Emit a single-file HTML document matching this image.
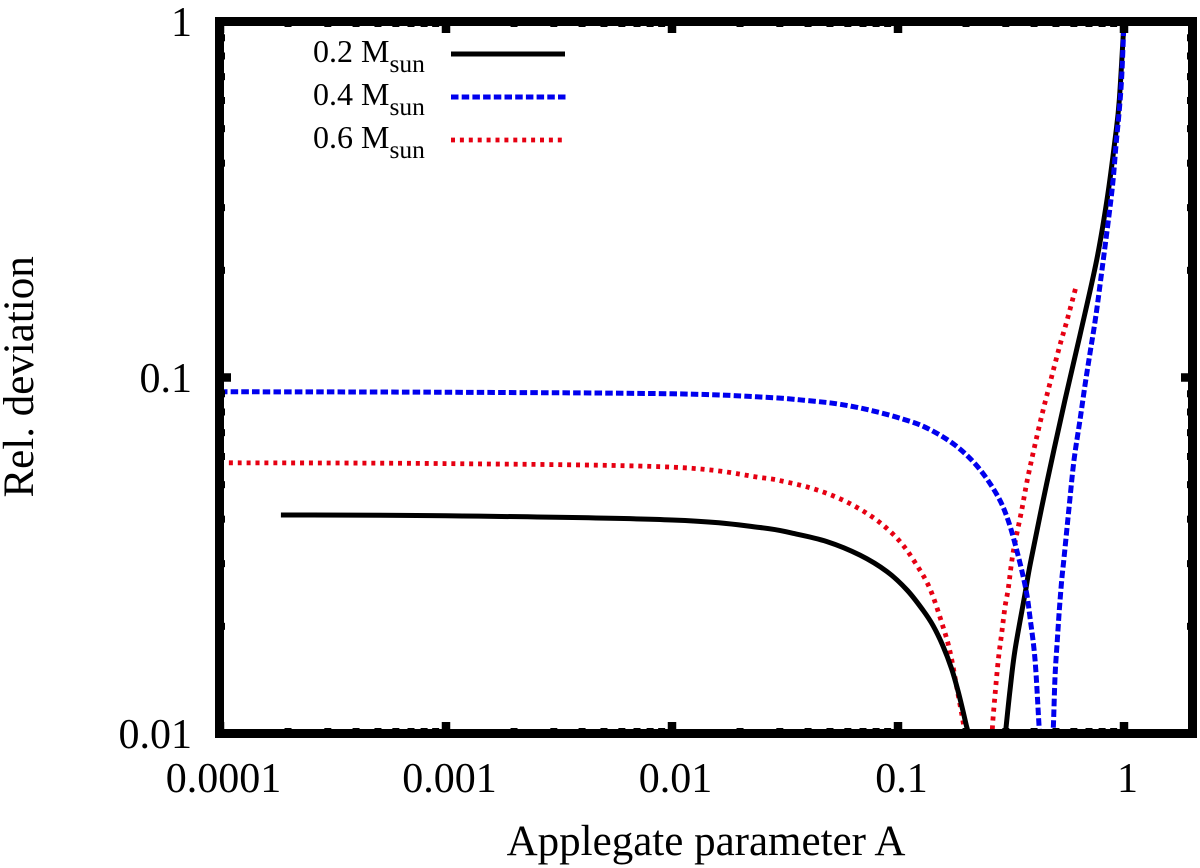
<!DOCTYPE html>
<html lang="en">
<head>
<meta charset="utf-8">
<title>Relative deviation vs Applegate parameter</title>
<style>
  html, body { margin: 0; padding: 0; background: #fff; }
  svg { display: block; font-family: "Liberation Serif", "Times New Roman", serif; fill: #000; }
</style>
</head>
<body>
<svg id="chart" xmlns="http://www.w3.org/2000/svg" width="1200" height="868" viewBox="0 0 1200 868">
  <rect x="0" y="0" width="1200" height="868" fill="#fff"/>
  <defs>
    <clipPath id="plot-clip"><rect x="219.5" y="21.5" width="973" height="712"/></clipPath>
  </defs>
  <g id="series" clip-path="url(#plot-clip)"></g>
  <g id="ticks"></g>
  <rect x="219.5" y="21.5" width="973" height="712" fill="none" stroke="#000" stroke-width="9"/>
  <g id="tick-labels" font-size="42"></g>
  <text x="706" y="855" font-size="43" text-anchor="middle">Applegate parameter A</text>
  <text transform="translate(33 497.5) rotate(-90)" font-size="43">Rel. deviation</text>
  <g>
    <text x="313" y="62" font-size="32">0.2 M<tspan font-size="25.5" dy="10">sun</tspan></text>
    <line x1="451" y1="54" x2="565" y2="54" stroke="#000" stroke-width="5"/>
    <text x="313" y="105" font-size="32">0.4 M<tspan font-size="25.5" dy="10">sun</tspan></text>
    <line x1="451" y1="97" x2="566" y2="97" stroke="#0000ee" stroke-width="5" stroke-dasharray="7.5 3.2"/>
    <text x="313" y="148" font-size="32">0.6 M<tspan font-size="25.5" dy="10">sun</tspan></text>
    <line x1="451" y1="140" x2="563" y2="140" stroke="#e60012" stroke-width="4.8" stroke-dasharray="4 4.9"/>
  </g>
</svg>
<script>
// Tick values and labels
const xTickValues = [0.0001, 0.001, 0.01, 0.1, 1];
const xTickLabels = ["0.0001", "0.001", "0.01", "0.1", "1"];
const yTickValues = [0.01, 0.1, 1];
const yTickLabels = ["0.01", "0.1", "1"];
const minorMultipliers = [2, 3, 4, 5, 6, 7, 8, 9];

// 0.2 Msun series
const a02Left = [0.000186, 0.001, 0.01, 0.0245, 0.0343, 0.0485, 0.0679, 0.0894, 0.1096, 0.129, 0.1429, 0.1582, 0.1728, 0.1843, 0.1939, 0.2014, 0.2083];
const dev02Left = [0.0411, 0.0409, 0.0398, 0.0379, 0.0365, 0.0346, 0.0317, 0.0285, 0.0253, 0.0222, 0.0201, 0.0176, 0.01518, 0.01317, 0.01156, 0.01043, 0.0097];
const a02Right = [0.2976, 0.3005, 0.3131, 0.3294, 0.3647, 0.3865, 0.455, 0.5482, 0.6388, 0.7571, 0.8434, 0.9124, 0.9532, 1];
const dev02Right = [0.0097, 0.01036, 0.01325, 0.01716, 0.02466, 0.0304, 0.0504, 0.0865, 0.1316, 0.2138, 0.3193, 0.4647, 0.6017, 1];

// 0.4 Msun series
const a04Left = [0.0001, 0.001, 0.01, 0.0258, 0.04, 0.0554, 0.0767, 0.1052, 0.1344, 0.1787, 0.2259, 0.2742, 0.3067, 0.3396, 0.3685, 0.3837, 0.404, 0.4206, 0.4249];
const dev04Left = [0.0912, 0.0909, 0.09, 0.088, 0.0861, 0.0841, 0.0807, 0.0764, 0.0721, 0.0646, 0.056, 0.0468, 0.0398, 0.0317, 0.0253, 0.0212, 0.0161, 0.01056, 0.0097];
const a04Right = [0.4802, 0.4866, 0.4952, 0.507, 0.5174, 0.5302, 0.5427, 0.5728, 0.601, 0.6388, 0.6724, 0.7074, 0.7443, 0.7832, 0.8823, 0.9218, 0.9532, 0.9768, 1];
const dev04Right = [0.0097, 0.01036, 0.01444, 0.01831, 0.02223, 0.02699, 0.03111, 0.04385, 0.05866, 0.076, 0.0953, 0.1172, 0.1435, 0.1819, 0.3298, 0.4499, 0.5642, 0.6998, 1];

// 0.6 Msun series
const a06Left = [0.0001, 0.001, 0.01, 0.0249, 0.0306, 0.0408, 0.0526, 0.0665, 0.0833, 0.1021, 0.1195, 0.1385, 0.1582, 0.1699, 0.1818, 0.1945, 0.1979];
const dev06Left = [0.0576, 0.0573, 0.056, 0.0523, 0.0512, 0.049, 0.0463, 0.043, 0.0391, 0.0346, 0.0301, 0.0255, 0.01995, 0.01697, 0.01353, 0.0107, 0.0097];
const a06Right = [0.2606, 0.2624, 0.2687, 0.2778, 0.2877, 0.2976, 0.3077, 0.3228, 0.3526, 0.3772, 0.4249, 0.4706, 0.5208, 0.5578, 0.6132];
const dev06Right = [0.0097, 0.0107, 0.01282, 0.01609, 0.01915, 0.0227, 0.0256, 0.0321, 0.0424, 0.0532, 0.0745, 0.0965, 0.1234, 0.1435, 0.1799];

const NS = "http://www.w3.org/2000/svg";
const xScale = function (a) { return 220 + 226 * (Math.log10(a) + 4); };
const yScale = function (d) { return 21.5 - 356 * Math.log10(d); };

const seriesGroup = document.getElementById("series");
const tickGroup = document.getElementById("ticks");
const labelGroup = document.getElementById("tick-labels");

function smoothPath(xs, ys) {
  const px = xs.map(xScale);
  const py = ys.map(yScale);
  let d = "M" + px[0].toFixed(2) + " " + py[0].toFixed(2);
  for (let i = 0; i < px.length - 1; i++) {
    const i0 = Math.max(i - 1, 0);
    const i3 = Math.min(i + 2, px.length - 1);
    const c1x = px[i] + (px[i + 1] - px[i0]) / 6;
    const c1y = py[i] + (py[i + 1] - py[i0]) / 6;
    const c2x = px[i + 1] - (px[i3] - px[i]) / 6;
    const c2y = py[i + 1] - (py[i3] - py[i]) / 6;
    d += "C" + c1x.toFixed(2) + " " + c1y.toFixed(2) + " " + c2x.toFixed(2) + " " + c2y.toFixed(2) + " " + px[i + 1].toFixed(2) + " " + py[i + 1].toFixed(2);
  }
  return d;
}

function drawCurve(xs, ys, color, width, dash, name) {
  const p = document.createElementNS(NS, "path");
  p.setAttribute("d", smoothPath(xs, ys));
  p.setAttribute("fill", "none");
  p.setAttribute("stroke", color);
  p.setAttribute("stroke-width", width);
  p.setAttribute("stroke-linejoin", "round");
  if (dash) p.setAttribute("stroke-dasharray", dash);
  
  
  seriesGroup.appendChild(p);
}

drawCurve(a06Left, dev06Left, "#e60012", 4.8, "4 4.9", "curve-06-msun-left");
drawCurve(a06Right, dev06Right, "#e60012", 4.8, "4 4.9", "curve-06-msun-right");
drawCurve(a02Left, dev02Left, "#000", 5, null, "curve-02-msun-left");
drawCurve(a02Right, dev02Right, "#000", 5, null, "curve-02-msun-right");
drawCurve(a04Left, dev04Left, "#0000ee", 5, "7.5 3.2", "curve-04-msun-left");
drawCurve(a04Right, dev04Right, "#0000ee", 5, "7.5 3.2", "curve-04-msun-right");

function drawTick(x1, y1, x2, y2, w, name) {
  const t = document.createElementNS(NS, "line");
  t.setAttribute("x1", x1);
  t.setAttribute("y1", y1);
  t.setAttribute("x2", x2);
  t.setAttribute("y2", y2);
  t.setAttribute("stroke", "#000");
  t.setAttribute("stroke-width", w);
  
  
  tickGroup.appendChild(t);
}

const majorLen = 11.5, minorLen = 5.5;
const xLeft = 219.5, xRight = 1192.5, yTop = 21.5, yBottom = 733.5;

xTickValues.forEach(function (v) {
  const x = xScale(v);
  drawTick(x, yBottom, x, yBottom - majorLen, 8.5, "x-major-tick-bottom");
  drawTick(x, yTop, x, yTop + majorLen, 8.5, "x-major-tick-top");
  minorMultipliers.forEach(function (m) {
    const xm = xScale(v * m);
    if (xm < xRight) {
      drawTick(xm, yBottom, xm, yBottom - minorLen, 7, "x-minor-tick-bottom");
      drawTick(xm, yTop, xm, yTop + minorLen, 7, "x-minor-tick-top");
    }
  });
});

yTickValues.forEach(function (v) {
  const y = yScale(v);
  drawTick(xLeft, y, xLeft + majorLen, y, 8.5, "y-major-tick-left");
  drawTick(xRight, y, xRight - majorLen, y, 8.5, "y-major-tick-right");
  minorMultipliers.forEach(function (m) {
    const ym = yScale(v * m);
    if (ym > yTop) {
      drawTick(xLeft, ym, xLeft + minorLen, ym, 7, "y-minor-tick-left");
      drawTick(xRight, ym, xRight - minorLen, ym, 7, "y-minor-tick-right");
    }
  });
});

xTickValues.forEach(function (v, i) {
  const t = document.createElementNS(NS, "text");
  t.setAttribute("x", xScale(v) + 3.5);
  t.setAttribute("y", 792);
  t.setAttribute("text-anchor", "middle");
  t.textContent = xTickLabels[i];
  
  
  labelGroup.appendChild(t);
});

yTickValues.forEach(function (v, i) {
  const t = document.createElementNS(NS, "text");
  t.setAttribute("x", 192);
  t.setAttribute("y", yScale(v) + 14.5);
  t.setAttribute("text-anchor", "end");
  t.textContent = yTickLabels[i];
  
  
  labelGroup.appendChild(t);
});
</script>
</body>
</html>
